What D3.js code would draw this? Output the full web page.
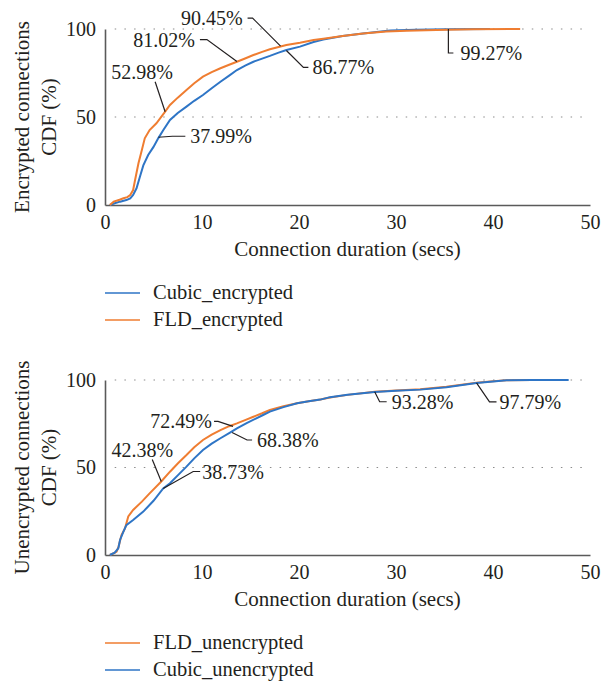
<!DOCTYPE html>
<html>
<head>
<meta charset="utf-8">
<script src="https://cdn.jsdelivr.net/npm/d3@7"></script>
<style>
  body { margin: 0; background: #fff; }
  svg text { font-family: "Liberation Serif", "Times New Roman", serif; fill: #231f20; }
</style>
</head>
<body>
<div id="chart"></div>
<script>
// values
const xTicks = [0, 10, 20, 30, 40, 50];
const yTicks = [0, 50, 100];

const cubicEnc = [[0.5,0],[1.0,1],[1.55,1.9],[2.2,2.8],[2.6,3.8],[2.9,5.7],[3.25,9.5],[3.6,16],[3.95,22.5],[4.45,28.4],
  [5.0,33],[5.5,38],[6.0,42.5],[6.7,48.3],[7.5,52.3],[8.4,55.9],[9.2,59.2],[10.1,62.5],[11,66.3],[11.9,70],
  [12.8,73.5],[13.6,76.7],[14.5,79.3],[15.3,81.4],[16.2,83.2],[17.0,84.7],[17.9,86.6],[18.7,88.1],[20.1,90],
  [21.5,92.6],[22.5,94],[24.5,96],[26.6,97.5],[29.4,99.2],[32,99.6],[35.2,99.9],[39.7,100]];
const fldEnc = [[0.5,0],[0.9,1.9],[1.5,3],[1.9,3.8],[2.3,4.5],[2.6,5.7],[2.9,8.5],[3.1,14.2],[3.45,23.7],[3.8,31.2],
  [4.1,37.9],[4.6,42.6],[5.3,46.4],[6.2,53],[6.7,56.8],[7.5,61],[8.4,65.3],[9.2,69.2],[10.1,72.9],[11,75.5],
  [11.9,77.7],[12.8,79.7],[13.6,81.4],[14.5,83.4],[15.3,85.2],[16.2,87],[17,88.5],[17.9,89.8],[18.7,90.9],
  [20.1,92.2],[21.5,93.7],[22.5,94.5],[24.5,96],[26.6,97.5],[29,98.6],[31.1,99],[35.2,99.6],[38,99.9],[42.8,100]];

const fldUnenc = [[0.5,0],[0.9,1],[1.2,2],[1.4,4.8],[1.7,11.4],[2.06,15.2],[2.4,22],[2.9,25.7],[3.8,30.5],[4.6,35.2],
  [5.8,42],[6.7,47.6],[7.5,52.3],[8.4,57.1],[9.2,61.6],[10.1,65.7],[11,68.8],[11.9,71.4],[12.8,73.6],[13.6,75.2],
  [14.5,77.2],[15.3,79],[16.2,81],[17,82.9],[18.4,85],[19.8,86.7],[21,87.8],[22.2,88.8],[23.2,90],[25,91.5],
  [27.8,93.3],[30,94],[32.5,94.7],[35.2,96.2],[38.3,98.4],[40,99.3],[41.4,99.8],[44,100]];
const cubicUnenc = [[0.5,0],[1.0,1.3],[1.37,3.8],[1.55,8.6],[1.9,13.3],[2.2,17.1],[2.9,20],[3.95,24.8],[5.0,31],
  [6.0,38],[6.7,41],[7.5,45.5],[8.4,50.5],[9.2,55.2],[10.1,60],[11,63.6],[11.9,66.7],[12.8,69.7],[13.6,72.4],
  [14.6,75.4],[15.6,78.1],[16.3,80],[17,81.9],[18.4,84.5],[19.8,86.7],[21,87.8],[22.2,88.8],[23.2,90.2],[25,91.6],
  [27.8,93.2],[30,93.8],[32.5,94.5],[35.2,95.8],[38.3,98.3],[40,99.2],[41.4,99.9],[44,100],[47.8,100]];

const encLabels = ["90.45%", "81.02%", "52.98%", "37.99%", "86.77%", "99.27%"];
const encLabelAt = [[18.1,90.3],[13.6,81.5],[6.2,53],[5.5,38.5],[18.7,87.8],[35.4,100]];
const unencLabels = ["72.49%", "68.38%", "42.38%", "38.73%", "93.28%", "97.79%"];
const unencLabelAt = [[13.2,73.5],[13.1,70],[5.8,42],[6.0,38],[27.8,93.3],[38.3,98.4]];

// callout placement (pixel offsets from the pointed value)
const encLayout = [
  {anchor: "end", dx: -38, dy: -28, path: [[-33,-28],[-28,-28],[0,0]]},
  {anchor: "end", dx: -42, dy: -22, path: [[-37,-22],[-30,-22],[0,0]]},
  {anchor: "middle", dx: -23, dy: -40, path: [[-10,-30],[0,0]]},
  {anchor: "start", dx: 32, dy: -1, path: [[0,0],[14,-1],[27,-1]]},
  {anchor: "start", dx: 26, dy: 17, path: [[0,0],[17,17],[22,17]]},
  {anchor: "start", dx: 12, dy: 24, path: [[0,0],[0,24],[5,24]]}
];
const unencLayout = [
  {anchor: "end", dx: -21, dy: -5, path: [[0,0],[-15,-5],[-19,-5]]},
  {anchor: "start", dx: 25, dy: 7.5, path: [[0,0],[15,7.5],[20,7.5]]},
  {anchor: "middle", dx: -19, dy: -32, path: [[0,0],[-9,-22]]},
  {anchor: "start", dx: 39, dy: -17, path: [[0,0],[30,-17],[37,-17]]},
  {anchor: "start", dx: 17, dy: 10, path: [[0,0],[5,10],[12,10]]},
  {anchor: "start", dx: 23, dy: 19, path: [[0,0],[13,19],[20,19]]}
];

const blue = "#2e75c6", orange = "#ef7d31";

const svg = d3.select("#chart").append("svg")
    .attr("width", 614)
    .attr("height", 682);

const x = d3.scaleLinear().domain([0, 50]).range([105, 590]);

function drawPanel(opt) {
  const y = d3.scaleLinear().domain([0, 100]).range([opt.bottom, opt.top]);
  const g = svg.append("g");

  // dotted gridlines
  g.selectAll(".grid").data([50, 100]).enter().append("line")
      .attr("x1", x(1)).attr("x2", x(50))
      .attr("y1", d => y(d)).attr("y2", d => y(d))
      .attr("stroke", "#8c8c8c").attr("stroke-width", 1.2)
      .attr("stroke-dasharray", "1.5,8.2");

  // x axis
  const xa = g.append("g")
      .attr("transform", "translate(0," + opt.bottom + ")")
      .call(d3.axisBottom(x).tickValues(xTicks).tickSize(0).tickPadding(10));
  xa.select(".domain").attr("stroke", "#5a5a5a").attr("stroke-width", 1.6);
  xa.selectAll("text").style("font-size", "20px").style("font-family", null).attr("fill", "#231f20");

  // y axis
  const ya = g.append("g")
      .attr("transform", "translate(" + x(0) + ",0)")
      .call(d3.axisLeft(y).tickValues(yTicks).tickSize(0).tickPadding(9));
  ya.select(".domain").attr("stroke", "#5a5a5a").attr("stroke-width", 1.6);
  ya.selectAll("text").style("font-size", "20px").style("font-family", null).attr("fill", "#231f20");

  const line = d3.line().x(d => x(d[0])).y(d => y(d[1]));
  opt.series.forEach(s => {
    g.append("path")
        .datum(s.data)
        .attr("fill", "none")
        .attr("stroke", s.color)
        .attr("stroke-width", 2)
        .attr("d", line);
  });

  // callouts
  opt.labels.forEach((t, i) => {
    const px = x(opt.labelAt[i][0]), py = y(opt.labelAt[i][1]);
    const l = opt.layout[i];
    g.append("path")
        .attr("fill", "none")
        .attr("stroke", "#231f20")
        .attr("stroke-width", 1.2)
        .attr("d", d3.line()(l.path.map(p => [px + p[0], py + p[1]])));
    g.append("text")
        .attr("x", px + l.dx).attr("y", py + l.dy)
        .attr("dy", "0.35em")
        .attr("text-anchor", l.anchor)
        .style("font-size", "20px")
        .text(t);
  });

  // axis titles
  g.append("text")
      .attr("x", x(25)).attr("y", opt.bottom + 51)
      .attr("text-anchor", "middle")
      .style("font-size", "21px")
      .text("Connection duration (secs)");

  const yt = g.append("text")
      .attr("text-anchor", "middle")
      .attr("transform", "translate(29," + y(50) + ") rotate(-90)")
      .style("font-size", "21px");
  yt.append("tspan").attr("x", 0).attr("y", 0).text(opt.yTitle);
  yt.append("tspan").attr("x", 0).attr("y", 27).text("CDF (%)");

  // legend
  opt.series.forEach((s, i) => {
    const ly = opt.legendY + i * 27;
    g.append("line")
        .attr("x1", 105).attr("x2", 140)
        .attr("y1", ly).attr("y2", ly)
        .attr("stroke", s.color).attr("stroke-width", 1.6);
    g.append("text")
        .attr("x", 153).attr("y", ly + 6)
        .style("font-size", "20.5px")
        .text(s.name);
  });
}

drawPanel({
  top: 29, bottom: 205, legendY: 293,
  yTitle: "Encrypted connections",
  series: [
    {name: "Cubic_encrypted", color: blue, data: cubicEnc},
    {name: "FLD_encrypted", color: orange, data: fldEnc}
  ],
  labels: encLabels, labelAt: encLabelAt, layout: encLayout
});

drawPanel({
  top: 380, bottom: 555, legendY: 643,
  yTitle: "Unencrypted connections",
  series: [
    {name: "FLD_unencrypted", color: orange, data: fldUnenc},
    {name: "Cubic_unencrypted", color: blue, data: cubicUnenc}
  ],
  labels: unencLabels, labelAt: unencLabelAt, layout: unencLayout
});
</script>
</body>
</html>
